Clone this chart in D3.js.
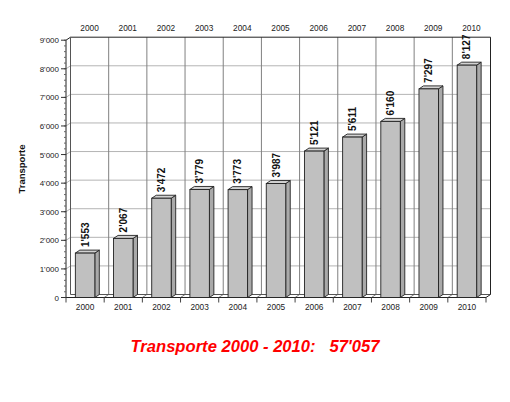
<!DOCTYPE html>
<html><head><meta charset="utf-8">
<script src="https://cdn.jsdelivr.net/npm/d3@7"></script>
<style>body{margin:0;background:#fff}svg{display:block}text{font-family:"Liberation Sans",Arial,Helvetica,sans-serif}</style>
</head><body>
<script>
const years = ["2000","2001","2002","2003","2004","2005","2006","2007","2008","2009","2010"];
const values = [1553,2067,3472,3779,3773,3987,5121,5611,6160,7297,8127];
const yTicks = [0,1000,2000,3000,4000,5000,6000,7000,8000,9000];
const yTitle = "Transporte";
const chartTitle = "Transporte 2000 - 2010:   57'057";

const W = 510, H = 402;
const dx = 4.5, dy = -3;
const svg = d3.select("body").append("svg").attr("width", W).attr("height", H);
const loc = d3.formatLocale({decimal: ".", thousands: "'", grouping: [3], currency: ["", ""]});
const fmt = loc.format(",d");

const x = d3.scaleBand().domain(years).range([66, 486]).padding(0);
const y = d3.scaleLinear().domain([0, 9000]).range([297.5, 40.2]);
const x0 = 66, x1 = 486, yb = y(0), yt = y(9000);

// back wall grid
const g = svg.append("g");
g.selectAll("line.h").data(yTicks.slice(1, -1)).join("line")
  .attr("x1", x0 + dx).attr("x2", x1 + dx)
  .attr("y1", d => y(d) + dy).attr("y2", d => y(d) + dy)
  .attr("stroke", "#b4b4b4").attr("stroke-width", 1);
// left wall grid
g.selectAll("line.lh").data(yTicks.slice(1, -1)).join("line")
  .attr("x1", x0).attr("x2", x0 + dx)
  .attr("y1", d => y(d)).attr("y2", d => y(d) + dy)
  .attr("stroke", "#b4b4b4");
g.selectAll("line.v").data(years.slice(1)).join("line")
  .attr("x1", d => x(d) + dx).attr("x2", d => x(d) + dx)
  .attr("y1", yt + dy).attr("y2", yb + dy)
  .attr("stroke", "#808080").attr("stroke-width", 1);
// floor vertical lines (depth)
g.selectAll("line.fv").data(years.slice(1)).join("line")
  .attr("x1", d => x(d)).attr("x2", d => x(d) + dx)
  .attr("y1", yb).attr("y2", yb + dy)
  .attr("stroke", "#808080");

// frame
const frame = svg.append("g").attr("fill", "none").attr("stroke", "#222").attr("stroke-width", 1);
frame.append("path").attr("d", `M${x0},${yb}L${x0},${yt}L${x0+dx},${yt+dy}L${x1+dx},${yt+dy}L${x1+dx},${yb+dy}`);
frame.append("path").attr("d", `M${x0+dx},${yt+dy}L${x0+dx},${yb+dy}L${x1+dx},${yb+dy}`).attr("stroke", "#555");
frame.append("path").attr("d", `M${x0},${yb}L${x1},${yb}L${x1+dx},${yb+dy}`);

// left axis ticks
const ax = svg.append("g");
ax.selectAll("line.mt").data(d3.range(0, 9001, 200)).join("line")
  .attr("x1", x0 - 2).attr("x2", x0).attr("y1", d => y(d)).attr("y2", d => y(d))
  .attr("stroke", "#666");
ax.selectAll("line.t").data(yTicks).join("line")
  .attr("x1", x0 - 5).attr("x2", x0).attr("y1", d => y(d)).attr("y2", d => y(d))
  .attr("stroke", "#333");
ax.selectAll("text").data(yTicks).join("text")
  .attr("x", x0 - 7).attr("y", d => y(d) + 3)
  .attr("text-anchor", "end").attr("font-size", 8).attr("fill", "#222")
  .text(d => fmt(d));

// bottom ticks
svg.append("g").selectAll("line").data(years.concat(["end"])).join("line")
  .attr("x1", d => d === "end" ? x1 : x(d)).attr("x2", d => d === "end" ? x1 : x(d))
  .attr("y1", yb).attr("y2", yb + 5).attr("stroke", "#444");

svg.append("g").selectAll("text").data(years).join("text")
  .attr("x", d => x(d) + x.bandwidth() / 2).attr("y", 310)
  .attr("text-anchor", "middle").attr("font-size", 8.3).attr("fill", "#222").text(d => d);
svg.append("g").selectAll("text").data(years).join("text")
  .attr("x", d => x(d) + x.bandwidth() / 2 + dx).attr("y", 31)
  .attr("text-anchor", "middle").attr("font-size", 8.3).attr("fill", "#222").text(d => d);

// bars
const bw = x.bandwidth() * 0.51;
const bars = svg.append("g").selectAll("g").data(years.map((d, i) => ({year: d, v: values[i]}))).join("g");
bars.each(function(d) {
  const gx = d3.select(this);
  const l = x(d.year) + (x.bandwidth() - bw) / 2, r = l + bw, t = y(d.v), b = yb;
  gx.append("path").attr("d", `M${r},${b}L${r},${t}L${r+dx},${t+dy}L${r+dx},${b+dy}Z`)
    .attr("fill", "#a9a9a9").attr("stroke", "#222").attr("stroke-width", 0.9);
  gx.append("path").attr("d", `M${l},${t}L${l+dx},${t+dy}L${r+dx},${t+dy}L${r},${t}Z`)
    .attr("fill", "#d2d2d2").attr("stroke", "#222").attr("stroke-width", 0.9);
  gx.append("rect").attr("x", l).attr("y", t).attr("width", bw).attr("height", b - t)
    .attr("fill", "#c0c0c0").attr("stroke", "#222").attr("stroke-width", 0.9);
  gx.append("text")
    .attr("transform", `translate(${l + bw/2 + 3.5},${t + dy - 3}) rotate(-90)`)
    .attr("font-size", 10).attr("font-weight", "bold").attr("fill", "#111")
    .text(fmt(d.v));
});

// y title
svg.append("text").attr("transform", "translate(25,169) rotate(-90)")
  .attr("text-anchor", "middle").attr("font-size", 9.5).attr("font-weight", "bold").attr("fill", "#111")
  .text(yTitle);

// title
svg.append("text").attr("x", 255).attr("y", 352).attr("text-anchor", "middle")
  .attr("font-size", 16.6).attr("font-weight", "bold").attr("font-style", "italic")
  .attr("fill", "#ff0000").style("white-space", "pre").text(chartTitle);
</script>
</body></html>
